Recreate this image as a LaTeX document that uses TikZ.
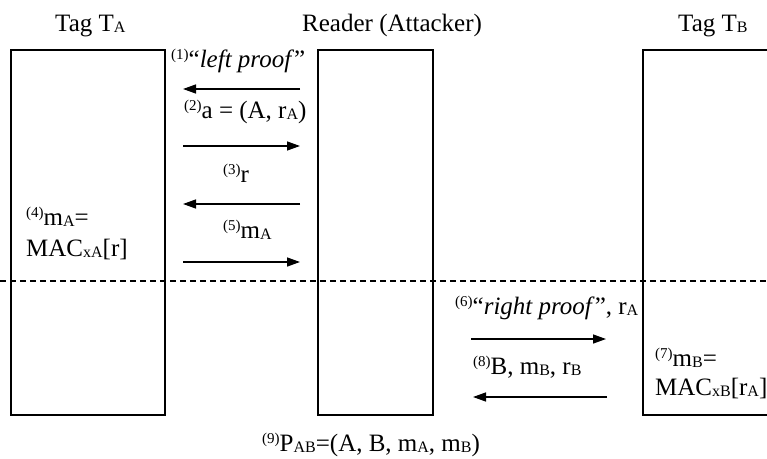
\documentclass[tikz,border=0pt]{standalone}
\usepackage{fontspec}
\setmainfont{Liberation Serif}
\usetikzlibrary{arrows.meta}
\newcommand\mysub[1]{\raisebox{-0.1ex}{\fontsize{16}{16}\selectfont #1}}
\newcommand\mysup[1]{\raisebox{0.65ex}{\fontsize{15}{15}\selectfont #1}}
\begin{document}
\begin{tikzpicture}[x=1pt,y=-1pt,
  lbl/.style={font=\fontsize{25}{25}\selectfont, inner sep=0pt, anchor=base west},
  box/.style={draw, line width=1.8pt, inner sep=0pt, outer sep=0pt, anchor=north west},
  msg/.style={line width=1.4pt, -{Triangle[length=13pt,width=9pt]}}]
\clip (0,0) rectangle (767,458);
\fill[white] (0,0) rectangle (767,458);
% titles
\node[lbl] (tA) at (55,31) {Tag T\mysub{A}};
\node[lbl] (tR) at (302,31) {Reader (Attacker)};
\node[lbl] (tB) at (678,31) {Tag T\mysub{B}};
% boxes
\node[box, minimum width=154pt, minimum height=365pt] (bA) at (11,50) {};
\node[box, minimum width=115pt, minimum height=365pt] (bR) at (318,50) {};
\node[box, minimum width=170pt, minimum height=365pt] (bB) at (643,50) {};
% dashed separator
\coordinate (dl) at (0,281);
\coordinate (dr) at (767,281);
\draw[line width=1.2pt, dash pattern=on 6pt off 4pt] (dl) -- (dr);
% messages
\node[lbl] (m1) at (171,67) {\mysup{(1)}“\textit{left proof}”};
\coordinate (a1s) at (300,89); \coordinate (a1e) at (183,89);
\draw[msg] (a1s) -- (a1e);
\node[lbl] (m2) at (184,118) {\mysup{(2)}a = (A, r\mysub{A})};
\coordinate (a2s) at (183,146); \coordinate (a2e) at (300,146);
\draw[msg] (a2s) -- (a2e);
\node[lbl] (m3) at (223,182) {\mysup{(3)}r};
\coordinate (a3s) at (300,204); \coordinate (a3e) at (183,204);
\draw[msg] (a3s) -- (a3e);
\node[lbl] (m5) at (223,238) {\mysup{(5)}m\mysub{A}};
\coordinate (a5s) at (183,262); \coordinate (a5e) at (300,262);
\draw[msg] (a5s) -- (a5e);
\node[lbl] (m4) at (26,225) {\mysup{(4)}m\mysub{A}=};
\node[lbl] (m4b) at (26,256) {MAC\mysub{xA}[r]};
\node[lbl] (m6) at (455,314) {\mysup{(6)}“\textit{right proof}”, r\mysub{A}};
\coordinate (a6s) at (471,339); \coordinate (a6e) at (606,339);
\draw[msg] (a6s) -- (a6e);
\node[lbl] (m8) at (473,374) {\mysup{(8)}B, m\mysub{B}, r\mysub{B}};
\coordinate (a8s) at (607,397); \coordinate (a8e) at (473,397);
\draw[msg] (a8s) -- (a8e);
\node[lbl] (m7) at (655,366) {\mysup{(7)}m\mysub{B}=};
\node[lbl] (m7b) at (655,395) {MAC\mysub{xB}[r\mysub{A}]};
\node[lbl] (m9) at (262,451) {\mysup{(9)}P\mysub{AB}=(A, B, m\mysub{A}, m\mysub{B})};
\end{tikzpicture}
\end{document}
